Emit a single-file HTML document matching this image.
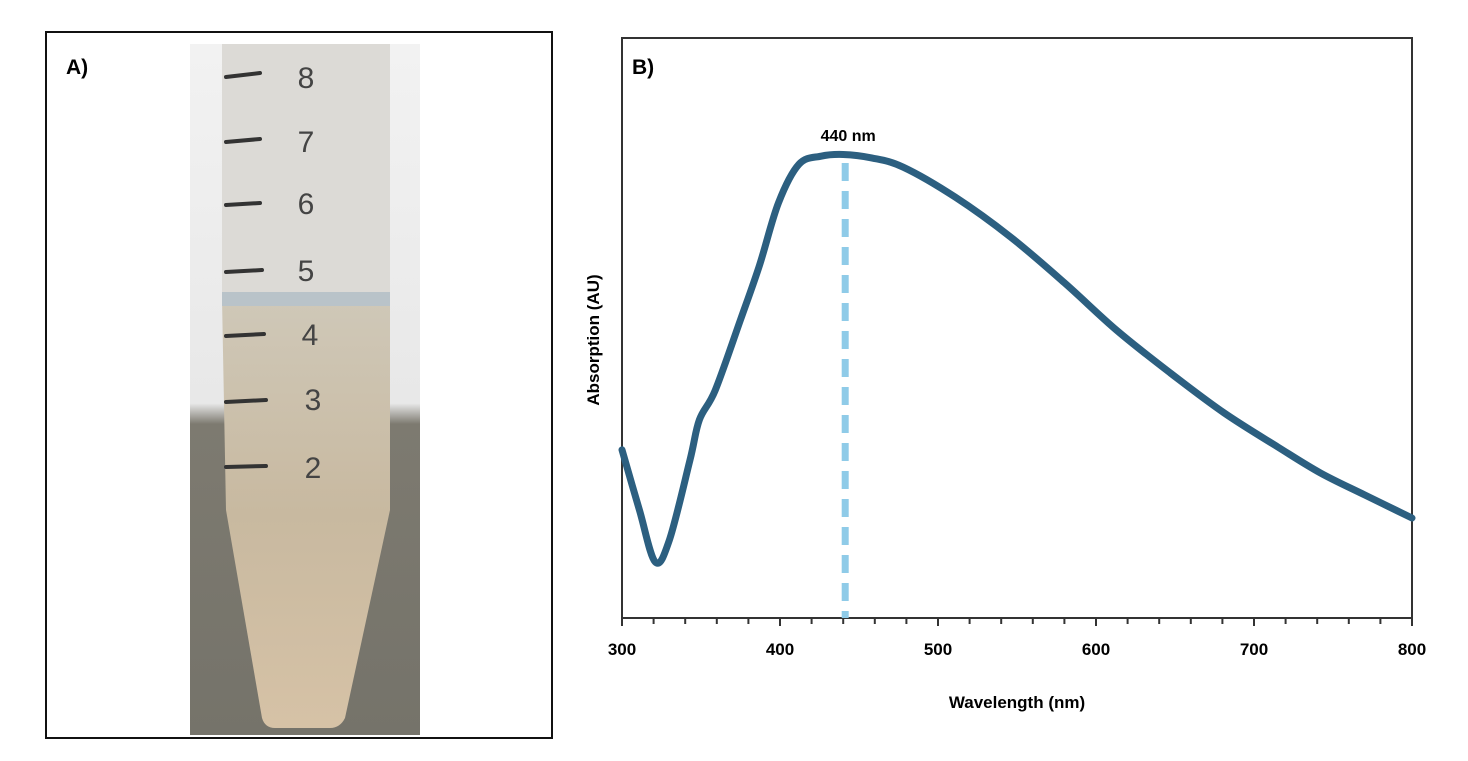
<!DOCTYPE html>
<html><head><meta charset="utf-8"><style>
body{margin:0;background:#fff;width:1468px;height:756px;overflow:hidden;font-family:"Liberation Sans",sans-serif}
</style></head><body>
<svg width="1468" height="756" viewBox="0 0 1468 756">
<defs>
<linearGradient id="bg" x1="0" y1="0" x2="0" y2="1">
<stop offset="0" stop-color="#f2f2f2"/><stop offset="0.52" stop-color="#e8e8e8"/><stop offset="0.55" stop-color="#7d7a70"/><stop offset="1" stop-color="#75736a"/></linearGradient>
<linearGradient id="liq" x1="0" y1="0" x2="0" y2="1">
<stop offset="0" stop-color="#cfc8b8"/><stop offset="0.5" stop-color="#c8b9a0"/><stop offset="1" stop-color="#d6c2a6"/></linearGradient>
</defs>
<g>
<rect x="46" y="32" width="506" height="706" fill="#fff" stroke="#111" stroke-width="2"/>
<rect x="190" y="44" width="230" height="691" fill="url(#bg)"/>
<rect x="222" y="44" width="168" height="255" fill="#dcdad6"/>
<path d="M222 299 H390 V510 L345 718 Q340 728 330 728 H275 Q265 728 262 718 L226 510 Z" fill="url(#liq)"/>
<rect x="222" y="292" width="168" height="14" fill="#b9c3c9"/>
<g stroke="#333" stroke-width="4" stroke-linecap="round">
<line x1="226" y1="77" x2="260" y2="73"/><line x1="226" y1="142" x2="260" y2="139"/><line x1="226" y1="205" x2="260" y2="203"/><line x1="226" y1="272" x2="262" y2="270"/><line x1="226" y1="336" x2="264" y2="334"/><line x1="226" y1="402" x2="266" y2="400"/><line x1="226" y1="467" x2="266" y2="466"/></g>
<g font-size="30" fill="#444" text-anchor="middle">
<text x="306" y="88">8</text><text x="306" y="152">7</text><text x="306" y="214">6</text><text x="306" y="281">5</text><text x="310" y="345">4</text><text x="313" y="410">3</text><text x="313" y="478">2</text></g>
<text x="66" y="74" font-size="21" font-weight="bold">A)</text>
</g>
<g>
<text x="632" y="74" font-size="21" font-weight="bold">B)</text>
<g id="chart"></g>
</g>
</svg>
<script>
const wavelengths=[300,311,321,330,343,349,359,375,387,399,412,426,440,458,478,511,546,580,613,647,681,715,742,770,800];
const absorbance=[.291,.187,.097,.135,.273,.343,.394,.516,.610,.718,.785,.799,.802,.796,.780,.728,.659,.580,.498,.424,.355,.296,.251,.213,.173];
const xTicks=[300,400,500,600,700,800];
const peakNm=440;
const peakLabel="440 nm";
const NS="http://www.w3.org/2000/svg";
const g=document.getElementById('chart');
const X0=622,X1=1412,Y0=618,Y1=40;
const xs=v=>X0+(v-300)/(800-300)*(X1-X0);
const ys=v=>Y0-v*(Y0-Y1);
function mk(t,a,txt){const e=document.createElementNS(NS,t);for(const k in a)e.setAttribute(k,a[k]);if(txt!==undefined)e.textContent=txt;g.appendChild(e);return e;}
let e;
e=mk('rect',{x:X0,y:38,width:X1-X0,height:Y0-38,fill:'none',stroke:'#333','stroke-width':2});


for(let v=300;v<=800;v+=20){const big=v%100===0;e=mk('line',{x1:xs(v),x2:xs(v),y1:Y0,y2:Y0+(big?8:6),stroke:'#333','stroke-width':2});

}
xTicks.forEach(v=>{e=mk('text',{x:xs(v),y:655,'text-anchor':'middle','font-size':17,'font-weight':'bold'},String(v));

});
e=mk('text',{x:(X0+X1)/2,y:708,'text-anchor':'middle','font-size':17,'font-weight':'bold'},'Wavelength (nm)');


e=mk('text',{x:0,y:0,transform:'translate(599,340) rotate(-90)','text-anchor':'middle','font-size':17,'font-weight':'bold'},'Absorption (AU)');


e=mk('line',{x1:xs(peakNm)+2,x2:xs(peakNm)+2,y1:163,y2:Y0,stroke:'#8fcbe8','stroke-width':7,'stroke-dasharray':'18 10'});


const P=wavelengths.map((w,i)=>[xs(w),ys(absorbance[i])]);
let d='M'+P[0][0]+' '+P[0][1];
for(let i=0;i<P.length-1;i++){const p0=P[Math.max(i-1,0)],p1=P[i],p2=P[i+1],p3=P[Math.min(i+2,P.length-1)];
d+=` C${p1[0]+(p2[0]-p0[0])/6} ${p1[1]+(p2[1]-p0[1])/6} ${p2[0]-(p3[0]-p1[0])/6} ${p2[1]-(p3[1]-p1[1])/6} ${p2[0]} ${p2[1]}`;}
e=mk('path',{d:d,fill:'none',stroke:'#2c5f80','stroke-width':7,'stroke-linecap':'round','stroke-linejoin':'round'});


e=mk('text',{x:xs(peakNm)+5,y:141,'text-anchor':'middle','font-size':16,'font-weight':'bold'},peakLabel);


</script>
</body></html>
